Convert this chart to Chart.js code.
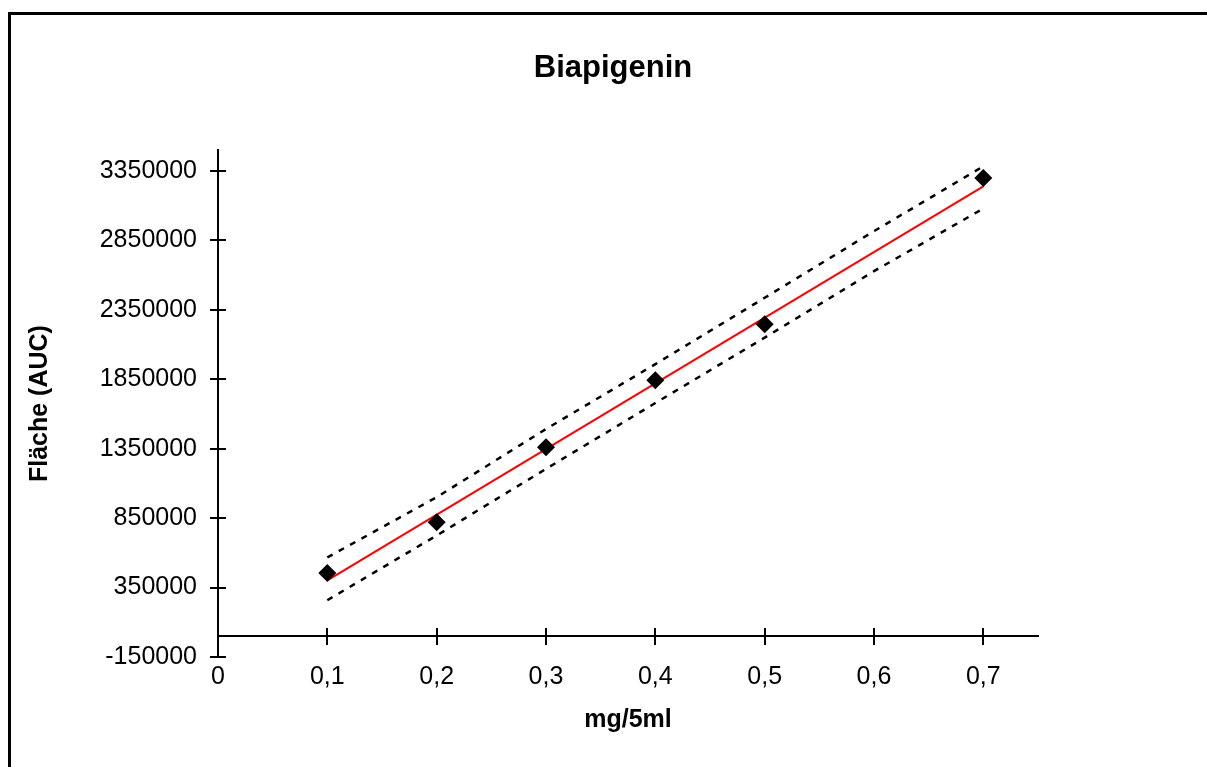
<!DOCTYPE html>
<html>
<head>
<meta charset="utf-8">
<title>Biapigenin</title>
<script src="https://cdn.jsdelivr.net/npm/chart.js@4/dist/chart.umd.min.js"></script>
<style>
  html, body { margin: 0; padding: 0; background: #fff; overflow: hidden; }
  #frame {
    position: absolute; left: 8px; top: 12px;
    width: 1300px; height: 900px;
    border: 3px solid #000;
  }
  #calib { position: absolute; left: 0; top: 0; }
</style>
</head>
<body>
<div id="frame"></div>
<canvas id="calib" width="1226" height="767"></canvas>
<script>
// Messwerte (mg/5ml -> Fläche)
const concentrations = [0.1, 0.2, 0.3, 0.4, 0.5, 0.7];
const areas = [455000, 821000, 1360000, 1844000, 2246000, 3300000];

// Regressionsgerade (Endpunkte)
const fitX = [0.1, 0.7];
const fitY = [402000, 3240000];

// Vertrauensband
const bandX = [0.1, 0.2, 0.3, 0.4, 0.5, 0.6, 0.7];
const upperBand = [567000, 1001000, 1492000, 1959000, 2437000, 2917000, 3384000];
const lowerBand = [259000, 725000, 1205000, 1679000, 2150000, 2629000, 3080000];

// Achsen
const xTicks = [0, 0.1, 0.2, 0.3, 0.4, 0.5, 0.6, 0.7];
const yTicks = [-150000, 350000, 850000, 1350000, 1850000, 2350000, 2850000, 3350000];

const pts = (xs, ys) => xs.map((x, i) => ({ x: x, y: ys[i] }));

Chart.defaults.font.family = "'Liberation Sans', Arial, sans-serif";
Chart.defaults.color = '#000';

// Teilstriche, die die Achse kreuzen
const crossTicks = {
    id: 'crossTicks',
    afterDraw(chart) {
        const ctx = chart.ctx;
        const sx = chart.scales.x, sy = chart.scales.y;
        const y0 = Math.round(sy.getPixelForValue(0));
        const x0 = Math.round(chart.chartArea.left);
        ctx.save();
        ctx.strokeStyle = '#000';
        ctx.lineWidth = 2;
        ctx.beginPath();
        xTicks.forEach(v => {
            if (v === 0) return;
            const px = Math.round(sx.getPixelForValue(v));
            ctx.moveTo(px, y0 - 8);
            ctx.lineTo(px, y0 + 9);
        });
        yTicks.forEach(v => {
            const py = Math.round(sy.getPixelForValue(v));
            ctx.moveTo(x0 - 8, py);
            ctx.lineTo(x0 + 8, py);
        });
        ctx.stroke();
        ctx.restore();
    }
};

const ctx = document.getElementById('calib').getContext('2d');

const bandStyle = {
    type: 'line',
    borderColor: '#000',
    borderWidth: 2.5,
    borderDash: [6, 7],
    pointRadius: 0,
    fill: false
};

const calibChart = new Chart(ctx, {
    type: 'scatter',
    data: {
        datasets: [{
            label: 'Messwerte',
            data: pts(concentrations, areas),
            pointStyle: 'rectRot',
            pointRadius: 9,
            pointHoverRadius: 9,
            backgroundColor: '#000',
            borderColor: '#000',
            borderWidth: 0
        }, {
            label: 'Regression',
            type: 'line',
            data: pts(fitX, fitY),
            borderColor: '#ff0000',
            borderWidth: 2,
            pointRadius: 0,
            fill: false
        }, Object.assign({
            label: 'obere Grenze',
            data: pts(bandX, upperBand)
        }, bandStyle), Object.assign({
            label: 'untere Grenze',
            data: pts(bandX, lowerBand)
        }, bandStyle)]
    },
    options: {
        responsive: false,
        animation: false,
        layout: {
            padding: { left: 0, right: 0, top: 0, bottom: 110 }
        },
        plugins: {
            legend: { display: false },
            tooltip: { enabled: false },
            title: {
                display: true,
                text: 'Biapigenin',
                font: { size: 31, weight: 'bold' },
                padding: { top: 50, bottom: 63 }
            }
        },
        scales: {
            x: {
                type: 'linear',
                position: { y: 0 },
                min: 0,
                max: 0.75,
                afterBuildTicks: (scale) => { scale.ticks = xTicks.map(v => ({ value: v })); },
                grid: { display: false, tickLength: 8 },
                border: { display: true, color: '#000', width: 2 },
                ticks: {
                    padding: 18,
                    font: { size: 25 },
                    maxRotation: 0,
                    callback: (v) => String(v).replace('.', ',')
                },
                title: {
                    display: true,
                    text: 'mg/5ml',
                    font: { size: 25, weight: 'bold' },
                    padding: { top: -5, bottom: 0 }
                }
            },
            y: {
                type: 'linear',
                position: 'left',
                min: -150000,
                max: 3500000,
                afterBuildTicks: (scale) => { scale.ticks = yTicks.map(v => ({ value: v })); },
                afterFit: (scale) => { scale.width = 218; },
                grid: { display: false, tickLength: 8 },
                border: { display: true, color: '#000', width: 2 },
                ticks: {
                    padding: 13,
                    font: { size: 25 },
                    callback: (v) => String(v)
                },
                title: {
                    display: true,
                    text: 'Fläche (AUC)',
                    font: { size: 25, weight: 'bold' },
                    padding: { top: 25, bottom: 0 }
                }
            },
            // leere Achse rechts, hält nur den Rand frei
            spacer: {
                type: 'linear',
                position: 'right',
                afterFit: (scale) => { scale.width = 188; },
                grid: { display: false },
                border: { display: false },
                ticks: { display: false }
            }
        }
    },
    plugins: [crossTicks]
});
</script>
</body>
</html>
